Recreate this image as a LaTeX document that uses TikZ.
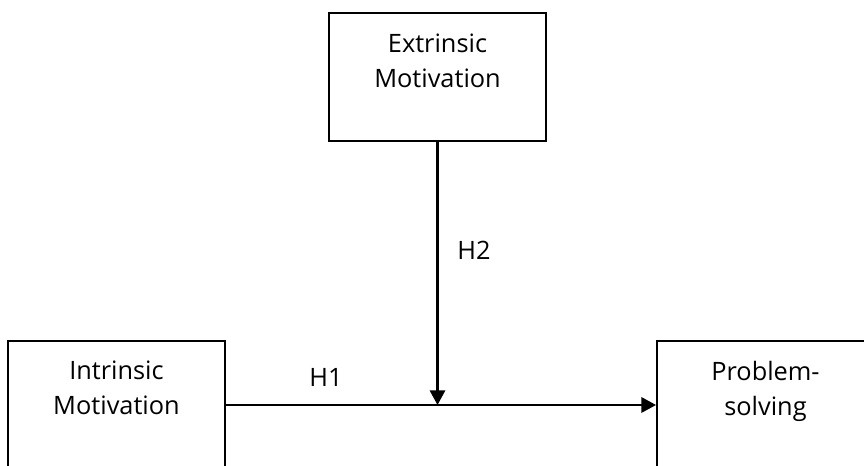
\documentclass[tikz,border=0pt]{standalone}
\usepackage{fontspec}
\setmainfont{Open Sans}
\usetikzlibrary{arrows.meta}

\tikzset{
  box/.style={draw, line width=1.7pt, minimum width=162.5pt, minimum height=96pt, inner sep=0pt},
  boxtext/.style={anchor=north, align=center, inner sep=0pt, font=\fontsize{19pt}{26pt}\selectfont},
  hyp/.style={inner sep=0pt, font=\fontsize{19pt}{26pt}\selectfont},
  link/.style={line width=1.7pt, -{Triangle[length=11pt,width=11.5pt]}}
}

\begin{document}
\begin{tikzpicture}[x=0.75pt, y=-0.75pt]

\useasboundingbox (0,0) rectangle (864,466);

\node(ext)[box] at (437.5,77) {};
\node(intr)[box] at (116.5,405) {};
\node(prob)[box] at (765.5,405) {};

\node(extt)[boxtext] at ([yshift=-16.5pt]ext.north) {Extrinsic\\Motivation};
\node(intrt)[boxtext] at ([yshift=-15.75pt]intr.north) {Intrinsic\\Motivation};
\node(probt)[boxtext] at ([yshift=-15.75pt]prob.north) {Problem-\\solving};

\coordinate(meet) at (ext.south |- intr.east);

\draw[link] (intr) -- (prob);
\draw[link] (ext) -- (meet);

\node(h1)[hyp] at (326,377) {H1};
\node(h2)[hyp] at (474,250) {H2};

\end{tikzpicture}
\end{document}
